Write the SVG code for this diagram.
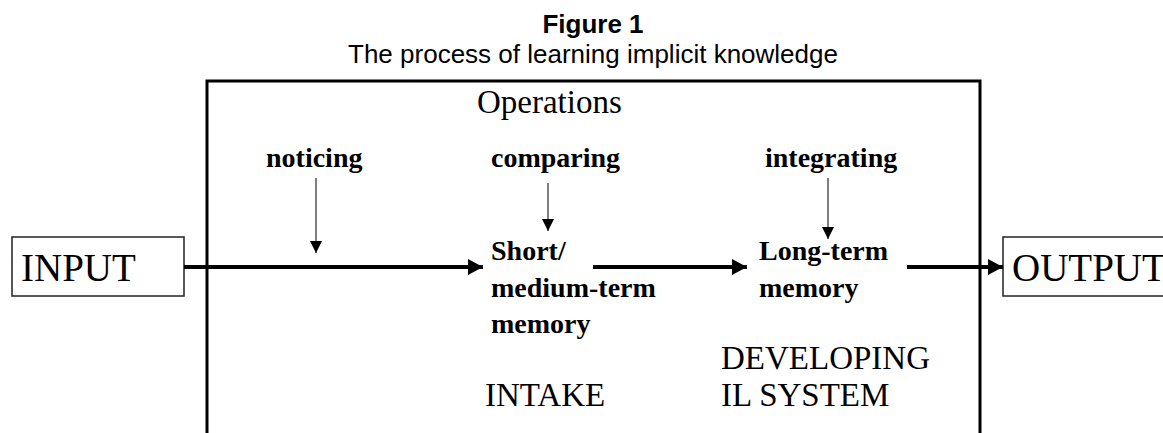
<svg xmlns="http://www.w3.org/2000/svg" width="1163" height="433" viewBox="0 0 1163 433">
<style>
.title{font-family:"Liberation Sans",Arial,sans-serif;font-size:26px;fill:#000}
.ser{font-family:"Liberation Serif","Times New Roman",serif;fill:#000}
.big{font-size:39px}
.mid{font-size:33px}
.lab{font-size:28px;font-weight:bold}
.frame{fill:none;stroke:#000;stroke-width:3}
.box{fill:#fff;stroke:#222;stroke-width:1.5}
.main{stroke:#000;stroke-width:4;fill:none}
.thin{stroke:#555;stroke-width:1.5;fill:none}
</style>
<defs>
<marker id="bigHead" markerUnits="userSpaceOnUse" markerWidth="16" markerHeight="16" refX="15" refY="8" orient="auto">
<path d="M0,0 L15,8 L0,16 z" fill="#000"/>
</marker>
<marker id="smallHead" markerUnits="userSpaceOnUse" markerWidth="12" markerHeight="12" refX="12" refY="6" orient="auto">
<path d="M0,0 L12,6 L0,12 z" fill="#000"/>
</marker>
</defs>
<g id="title">
<text class="title" x="593" y="33" text-anchor="middle" font-weight="bold">Figure 1</text>
<text class="title" x="593" y="63" text-anchor="middle">The process of learning implicit knowledge</text>
</g>
<g id="operations-frame">
<path class="frame" d="M207,440 L207,81 L980,81 L980,440"/>
<text class="ser mid" x="477" y="113">Operations</text>
</g>
<g id="input">
<rect class="box" x="12" y="237" width="172" height="59"/>
<text class="ser big" x="21" y="281">INPUT</text>
</g>
<g id="output">
<rect class="box" x="1003" y="237" width="180" height="59"/>
<text class="ser big" x="1012" y="281">OUTPUT</text>
</g>
<g id="noticing">
<text class="ser lab" x="266" y="167">noticing</text>
</g>
<g id="comparing">
<text class="ser lab" x="491" y="167">comparing</text>
</g>
<g id="integrating">
<text class="ser lab" x="765" y="167">integrating</text>
</g>
<g id="short-medium-term-memory">
<text class="ser lab" x="491" y="260">Short/</text>
<text class="ser lab" x="491" y="297">medium-term</text>
<text class="ser lab" x="491" y="333">memory</text>
<text class="ser mid" x="485" y="406">INTAKE</text>
</g>
<g id="long-term-memory">
<text class="ser lab" x="759" y="260">Long-term</text>
<text class="ser lab" x="759" y="297">memory</text>
<text class="ser mid" x="721" y="369">DEVELOPING</text>
<text class="ser mid" x="721" y="406">IL SYSTEM</text>
</g>
<g id="connectors">
<line class="main" x1="184" y1="267" x2="483" y2="267" marker-end="url(#bigHead)"/>
<line class="main" x1="593" y1="267" x2="747" y2="267" marker-end="url(#bigHead)"/>
<line class="main" x1="907" y1="267" x2="1003" y2="267" marker-end="url(#bigHead)"/>
<line class="thin" x1="316" y1="178" x2="316" y2="253" marker-end="url(#smallHead)"/>
<line class="thin" x1="548" y1="183" x2="548" y2="231" marker-end="url(#smallHead)"/>
<line class="thin" x1="828" y1="178" x2="828" y2="239" marker-end="url(#smallHead)"/>
</g>
</svg>
